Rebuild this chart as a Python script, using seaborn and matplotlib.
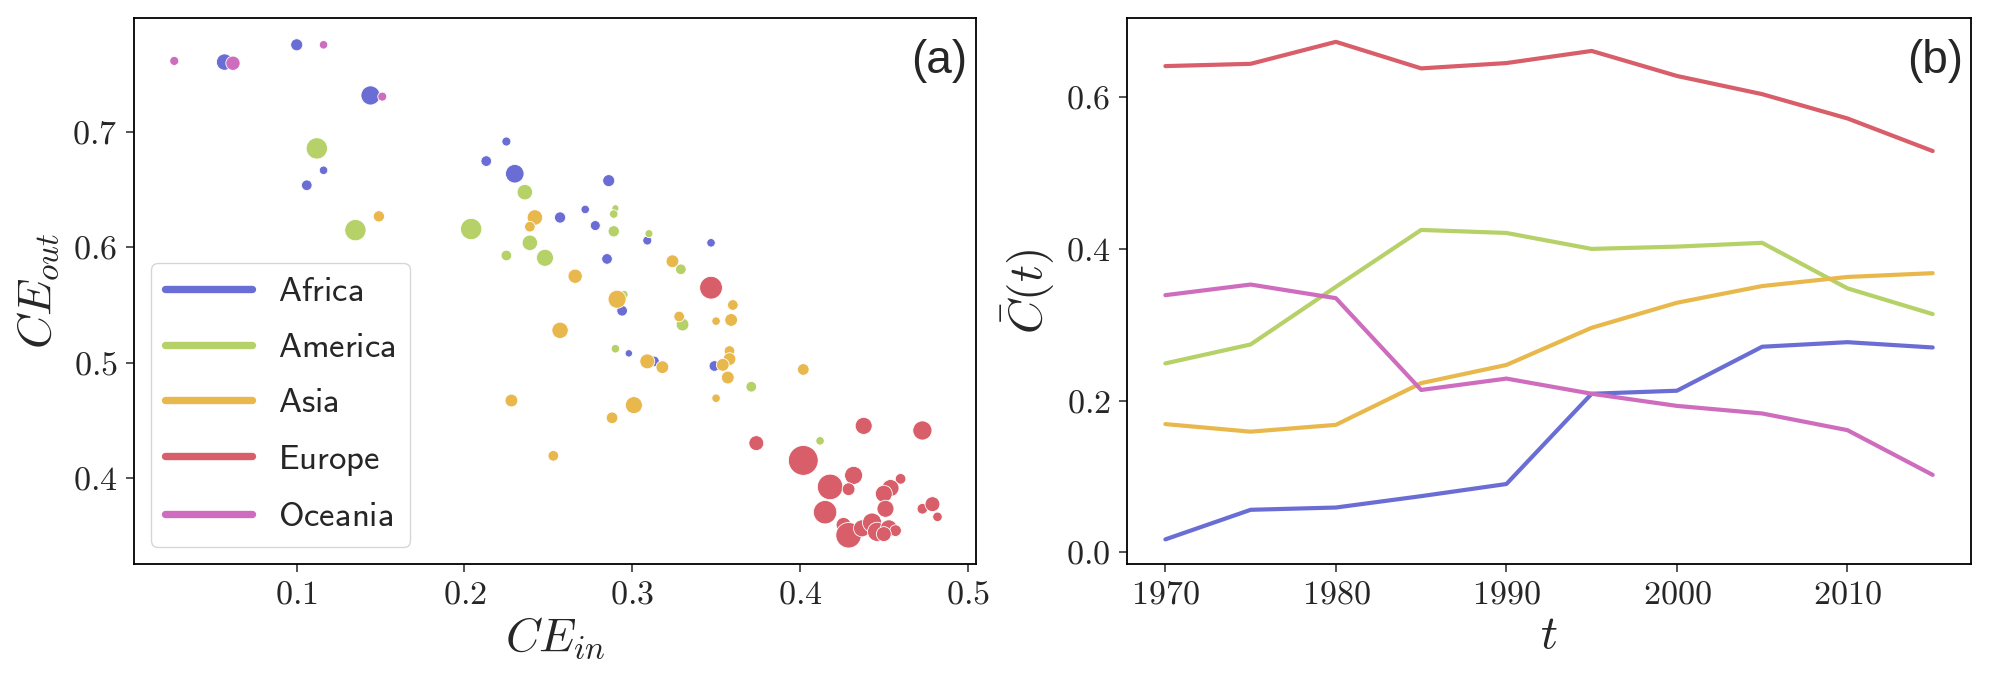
import numpy as np
import pandas as pd
import seaborn as sns
import matplotlib.pyplot as plt
from matplotlib.lines import Line2D

continents = ["Africa", "America", "Asia", "Europe", "Oceania"]
palette = {"Africa": "#6a6ed4", "America": "#b5d168", "Asia": "#e9b84c",
           "Europe": "#d85e6a", "Oceania": "#ce6cbe"}

# panel (a): CE_in, CE_out and a weight (marker area)
africa_in = [0.057, 0.100, 0.144, 0.116, 0.106, 0.225, 0.213, 0.230, 0.257, 0.272,
             0.278, 0.286, 0.285, 0.294, 0.298, 0.313, 0.349, 0.309, 0.347]
africa_out = [0.761, 0.776, 0.732, 0.667, 0.654, 0.692, 0.675, 0.664, 0.626, 0.633,
              0.619, 0.658, 0.590, 0.545, 0.508, 0.501, 0.497, 0.606, 0.604]
africa_w = [59, 32, 81, 16, 25, 18, 25, 76, 28, 16, 22, 32, 25, 25, 12, 25, 25, 18, 16]

america_in = [0.112, 0.135, 0.204, 0.236, 0.239, 0.225, 0.248, 0.290, 0.289, 0.289,
              0.329, 0.295, 0.330, 0.290, 0.371, 0.310, 0.412]
america_out = [0.686, 0.615, 0.616, 0.648, 0.604, 0.593, 0.591, 0.634, 0.629, 0.614,
               0.581, 0.559, 0.533, 0.512, 0.479, 0.612, 0.432]
america_w = [100, 100, 100, 53, 53, 25, 64, 11, 16, 28, 25, 16, 36, 16, 25, 14, 16]

asia_in = [0.149, 0.242, 0.239, 0.266, 0.257, 0.324, 0.291, 0.360, 0.328, 0.350,
           0.359, 0.309, 0.318, 0.358, 0.358, 0.354, 0.357, 0.350, 0.228, 0.301,
           0.288, 0.253, 0.402]
asia_out = [0.627, 0.626, 0.618, 0.575, 0.528, 0.588, 0.555, 0.550, 0.540, 0.536,
            0.537, 0.501, 0.496, 0.510, 0.503, 0.498, 0.487, 0.469, 0.467, 0.463,
            0.452, 0.419, 0.494]
asia_w = [28, 53, 25, 45, 59, 36, 72, 25, 25, 16, 36, 49, 36, 25, 36, 36, 36, 16, 36, 64,
          30, 25, 30]

europe_in = [0.347, 0.374, 0.438, 0.473, 0.402, 0.432, 0.418, 0.429, 0.460, 0.454,
             0.450, 0.451, 0.415, 0.473, 0.479, 0.482, 0.426, 0.429, 0.437, 0.443,
             0.446, 0.453, 0.457, 0.450]
europe_out = [0.565, 0.430, 0.445, 0.441, 0.415, 0.402, 0.392, 0.390, 0.399, 0.391,
              0.386, 0.373, 0.370, 0.373, 0.377, 0.366, 0.359, 0.350, 0.356, 0.361,
              0.353, 0.356, 0.354, 0.351]
europe_w = [114, 49, 64, 81, 196, 72, 144, 36, 25, 64, 64, 64, 121, 25, 49, 20, 49, 144,
            64, 81, 81, 64, 30, 49]

oceania_in = [0.027, 0.062, 0.116, 0.151]
oceania_out = [0.762, 0.760, 0.776, 0.731]
oceania_w = [18, 45, 16, 18]

# panel (b): mean C(t) per continent
years = [1970, 1975, 1980, 1985, 1990, 1995, 2000, 2005, 2010, 2015]
africa_c = [0.017, 0.056, 0.059, 0.074, 0.090, 0.209, 0.213, 0.271, 0.277, 0.270]
america_c = [0.249, 0.274, 0.350, 0.425, 0.421, 0.400, 0.403, 0.408, 0.348, 0.314]
asia_c = [0.169, 0.159, 0.168, 0.223, 0.247, 0.296, 0.329, 0.351, 0.363, 0.368]
europe_c = [0.641, 0.644, 0.673, 0.638, 0.645, 0.661, 0.628, 0.604, 0.572, 0.529]
oceania_c = [0.339, 0.353, 0.335, 0.214, 0.229, 0.209, 0.193, 0.183, 0.161, 0.102]

scat = pd.concat([
    pd.DataFrame({"ce_in": xs, "ce_out": ys, "w": ws, "continent": c})
    for c, xs, ys, ws in [("Africa", africa_in, africa_out, africa_w),
                          ("America", america_in, america_out, america_w),
                          ("Asia", asia_in, asia_out, asia_w),
                          ("Europe", europe_in, europe_out, europe_w),
                          ("Oceania", oceania_in, oceania_out, oceania_w)]
], ignore_index=True)

lines = pd.concat([
    pd.DataFrame({"year": years, "c": vals, "continent": c})
    for c, vals in [("Africa", africa_c), ("America", america_c), ("Asia", asia_c),
                    ("Europe", europe_c), ("Oceania", oceania_c)]
], ignore_index=True)

sns.set_style("ticks")
plt.rcParams["font.family"] = ["cmr10"]
plt.rcParams["axes.formatter.use_mathtext"] = True
plt.rcParams["mathtext.fontset"] = "cm"
plt.rcParams["axes.unicode_minus"] = False

fig = plt.figure(figsize=(19.94, 6.86), dpi=100)
ax1 = fig.add_axes([0.0672, 0.1778, 0.4223, 0.7955])
ax2 = fig.add_axes([0.5652, 0.1778, 0.4233, 0.7955])

sns.scatterplot(data=scat, x="ce_in", y="ce_out", hue="continent", size="w",
                sizes=(0, 470), size_norm=(0, 200), palette=palette,
                hue_order=continents, edgecolor="white", linewidth=0.6,
                legend=False, ax=ax1)
ax1.set_xlim(0.003, 0.505)
ax1.set_ylim(0.325, 0.799)
ax1.set_xticks([0.1, 0.2, 0.3, 0.4, 0.5])
ax1.set_yticks([0.4, 0.5, 0.6, 0.7])
ax1.set_xlabel(r"$CE_{in}$", fontsize=34, labelpad=4)
ax1.set_ylabel(r"$CE_{out}$", fontsize=34, labelpad=8)

handles = [Line2D([0], [0], color=palette[c], lw=5.3) for c in continents]
labels = [r"$\mathsf{%s}$" % c for c in continents]
leg = ax1.legend(handles, labels, loc="lower left", fontsize=25, handlelength=2.5,
                 handletextpad=0.75, labelspacing=0.68, borderpad=0.4,
                 borderaxespad=0.5, frameon=True, fancybox=True)
leg.get_frame().set_edgecolor("#cccccc")

sns.lineplot(data=lines, x="year", y="c", hue="continent", palette=palette,
             hue_order=continents, lw=3, legend=False, ax=ax2)
ax2.set_xlim(1967.75, 2017.25)
ax2.set_ylim(-0.0155, 0.704)
ax2.set_xticks([1970, 1980, 1990, 2000, 2010])
ax2.set_yticks([0.0, 0.2, 0.4, 0.6])
ax2.set_xlabel(r"$t$", fontsize=34, labelpad=4)
ax2.set_ylabel(r"$\bar{C}(t)$", fontsize=34, labelpad=6)

for ax, tag in [(ax1, "(a)"), (ax2, "(b)")]:
    ax.tick_params(labelsize=24.5, length=6, width=1.1, pad=6, direction="out")
    for sp in ax.spines.values():
        sp.set_linewidth(1.3)
        sp.set_color("black")
    ax.text(0.99, 0.963, tag, transform=ax.transAxes, ha="right", va="top",
            fontsize=33, family=["Liberation Sans", "DejaVu Sans"])

fig.savefig("out.png", dpi=100)
